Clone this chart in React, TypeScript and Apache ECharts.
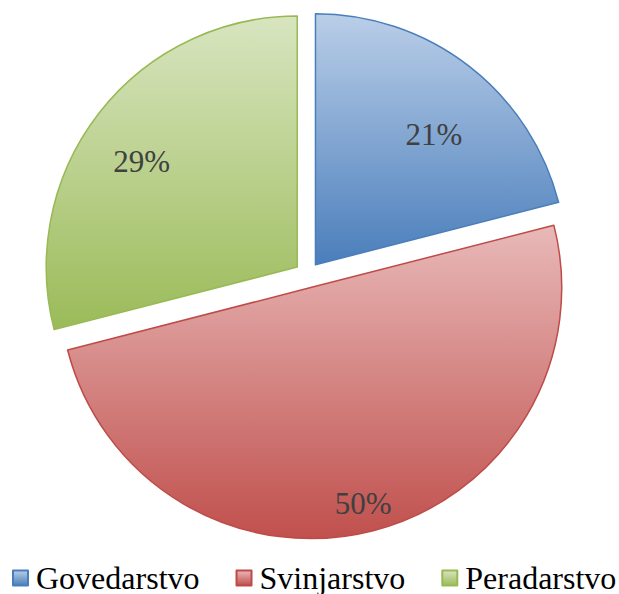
import React, { useEffect, useRef } from "react";
import * as echarts from "echarts";

const categories = ["Govedarstvo", "Svinjarstvo", "Peradarstvo"];
const values = [21, 50, 29];

const topColors = ["#bacee8", "#e8b9b8", "#d8e5c0"];
const bottomColors = ["#4a7ebb", "#c0504d", "#9bbb59"];
const borderColors = ["#4a7ebb", "#be4b48", "#98b954"];

const SERIF = "'Liberation Serif', 'DejaVu Serif', serif";

// layout (pixels)
const CX = 307.5;
const CY = 275;
const R = 251;
const OFFSET = 13;
// label placement relative to each slice: radius fraction and angle tweak (deg)
const labelRadius = [0.69, 0.875, 0.737];
const labelAngleDelta = [4.5, 0.8, -3.7];

export default function App() {
  const ref = useRef<HTMLDivElement>(null);
  useEffect(() => {
    if (!ref.current) return;
    const chart = echarts.init(ref.current, undefined, { renderer: "svg" });
    const total = values.reduce((a, b) => a + b, 0);
    const mids: number[] = [];
    let acc = 0;
    values.forEach((v) => {
      const a0 = (acc / total) * 360;
      acc += v;
      const a1 = (acc / total) * 360;
      mids.push((a0 + a1) / 2);
    });

    const makeStyle = (i: number) => ({
      color: new echarts.graphic.LinearGradient(0, 0, 0, 1, [
        { offset: 0, color: topColors[i] },
        { offset: 1, color: bottomColors[i] },
      ]),
      borderColor: borderColors[i],
      borderWidth: 1.5,
    });

    const labelOffset = (i: number) => {
      const m = (mids[i] * Math.PI) / 180;
      const a = ((mids[i] + labelAngleDelta[i]) * Math.PI) / 180;
      const r = labelRadius[i] * R;
      const dx = r * Math.sin(a) - 0.5 * R * Math.sin(m);
      const dy = -r * Math.cos(a) + 0.5 * R * Math.cos(m);
      return [dx, dy];
    };

    const data = categories.map((name, i) => {
      const lbl = { offset: labelOffset(i) };
      return {
        name,
        value: values[i],
        selected: true,
        itemStyle: makeStyle(i),
        label: lbl,
        select: { itemStyle: makeStyle(i), label: lbl },
        emphasis: { itemStyle: makeStyle(i), label: lbl },
      };
    });

    chart.setOption({
      animation: false,
      textStyle: { fontFamily: SERIF },
      legend: {
        data: categories,
        left: 12,
        top: 562,
        width: 607,
        padding: 0,
        icon: "rect",
        itemWidth: 15,
        itemHeight: 15,
        itemGap: 36,
        selectedMode: false,
        textStyle: {
          fontFamily: SERIF,
          fontSize: 32,
          color: "#000",
          padding: [0, 0, 0, 3],
        },
      },
      series: [
        {
          type: "pie",
          center: [CX, CY],
          radius: [0, R],
          startAngle: 90,
          clockwise: true,
          selectedMode: "multiple",
          selectedOffset: OFFSET,
          avoidLabelOverlap: false,
          label: {
            show: true,
            position: "inside",
            formatter: (p: any) => Math.round(p.percent) + "%",
            fontFamily: SERIF,
            fontSize: 31,
            color: "#404040",
          },
          labelLine: { show: false },
          data,
        },
      ],
    });
    return () => chart.dispose();
  }, []);
  return (
    <div
      ref={ref}
      style={{ position: "fixed", left: 0, top: 0, width: 619, height: 594, background: "#fff" }}
    />
  );
}
